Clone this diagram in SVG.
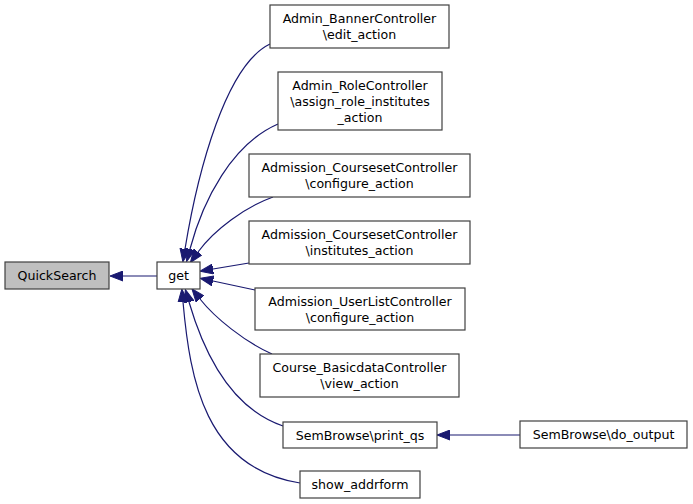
<svg xmlns="http://www.w3.org/2000/svg" width="693" height="504" viewBox="0 0 693 504">
<style>
.node rect{fill:#ffffff;stroke:#404040;stroke-width:1.2}
.node.root rect{fill:#bfbfbf}
.node text{font-family:"DejaVu Sans",Verdana,sans-serif;font-size:12.6px;fill:#000000;text-anchor:middle}
.edges path{fill:none;stroke:#191970;stroke-width:1.2;marker-end:url(#arrow)}
</style>
<defs>
<marker id="arrow" markerUnits="userSpaceOnUse" markerWidth="14" markerHeight="11" viewBox="0 -5.5 14 11" refX="0" refY="0" orient="auto">
<path d="M13,0 L0,-5 L0,5 Z" fill="#191970" stroke="#191970" stroke-width="1"/>
</marker>
</defs>
<rect width="693" height="504" fill="#ffffff"/>
<g class="edges" id="edges">
<path d="M157,276 L123,276"/>
<path d="M270,44 C226,65 198,170 185,249"/>
<path d="M278,124 C232,144 203,200 190,249"/>
<path d="M273,197 C245,207 214,230 198,252"/>
<path d="M249,263 L213,269"/>
<path d="M255,290 L213,281"/>
<path d="M272,354 C245,342 215,318 200,299"/>
<path d="M283,426 C230,408 203,350 189,302"/>
<path d="M300,483 C205,468 190,380 183,302"/>
<path d="M520,435 L450,435"/>
</g>
<g class="node root" id="node-quicksearch"><rect x="5" y="262" width="104" height="27"/><text x="57" y="280">QuickSearch</text></g>
<g class="node" id="node-get"><rect x="157" y="262" width="43" height="27"/><text x="178.5" y="280">get</text></g>
<g class="node" id="node-banner"><rect x="270" y="5" width="179" height="43"/><text x="359.5" y="23">Admin_BannerController</text><text x="359.5" y="39">\edit_action</text></g>
<g class="node" id="node-role"><rect x="278" y="72" width="164" height="58"/><text x="360" y="90">Admin_RoleController</text><text x="360" y="106">\assign_role_institutes</text><text x="360" y="122">_action</text></g>
<g class="node" id="node-courseset-configure"><rect x="249" y="154" width="221" height="43"/><text x="359.5" y="172">Admission_CoursesetController</text><text x="359.5" y="188">\configure_action</text></g>
<g class="node" id="node-courseset-institutes"><rect x="249" y="221" width="221" height="43"/><text x="359.5" y="239">Admission_CoursesetController</text><text x="359.5" y="255">\institutes_action</text></g>
<g class="node" id="node-userlist"><rect x="255" y="288" width="210" height="42"/><text x="360" y="306">Admission_UserListController</text><text x="360" y="322">\configure_action</text></g>
<g class="node" id="node-course"><rect x="260" y="354" width="199" height="43"/><text x="359.5" y="372">Course_BasicdataController</text><text x="359.5" y="388">\view_action</text></g>
<g class="node" id="node-printqs"><rect x="283" y="422" width="154" height="26"/><text x="360" y="439.5">SemBrowse\print_qs</text></g>
<g class="node" id="node-addrform"><rect x="300" y="471" width="120" height="27"/><text x="360" y="489">show_addrform</text></g>
<g class="node" id="node-dooutput"><rect x="520" y="421" width="167" height="27"/><text x="603.5" y="439">SemBrowse\do_output</text></g>
</svg>
